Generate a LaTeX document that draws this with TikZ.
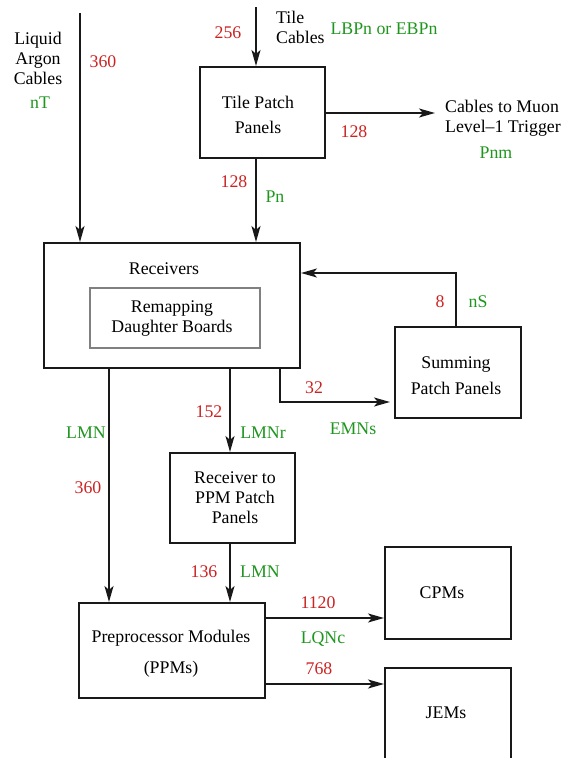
\documentclass[tikz,border=0pt]{standalone}
\usepackage{fontspec}
\setmainfont{Liberation Serif}
\usetikzlibrary{arrows.meta}
\definecolor{numred}{RGB}{204,34,34}
\definecolor{tagreen}{RGB}{30,150,30}
\tikzset{
  box/.style={draw=black!90, line width=2pt, inner sep=0pt},
  subbox/.style={draw=black!50, line width=1.4pt, inner sep=0pt},
  txt/.style={font=\fontsize{17.8}{20}\selectfont, align=center, inner sep=0pt},
  num/.style={txt, text=numred},
  tag/.style={txt, text=tagreen},
  flow/.style={line width=2pt, draw=black!90,
    -{Stealth[length=16pt,width=9pt,inset=4pt]}},
}
\begin{document}
\begin{tikzpicture}[x=1pt, y=-1pt]
  \clip (0,0) rectangle (566,758);

  % boxes
  \node[box, minimum width=125pt, minimum height=91pt] (tpp) at (262.5,112.5) {};
  \node[box, minimum width=256pt, minimum height=125pt] (rec) at (172,305.5) {};
  \node[subbox, minimum width=170pt, minimum height=60pt] (remap) at (175,318) {};
  \node[box, minimum width=126pt, minimum height=91pt] (spp) at (458,372.5) {};
  \node[box, minimum width=125pt, minimum height=90pt] (r2p) at (232.5,498) {};
  \node[box, minimum width=186pt, minimum height=95pt] (ppm) at (172,650.5) {};
  \node[box, minimum width=126pt, minimum height=92pt] (cpm) at (448,593) {};
  \node[box, minimum width=126pt, minimum height=92pt] (jem) at (448,714) {};

  % box texts
  \node[txt, font=\fontsize{17.8}{25}\selectfont] (tppT) at (258,114.5) {Tile Patch\\Panels};
  \node[txt] (recT) at (164,269) {Receivers};
  \node[txt] (remapT) at (172,319) {Remapping\\Daughter Boards};
  \node[txt, font=\fontsize{17.8}{26}\selectfont] (sppT) at (456,376) {Summing\\Patch Panels};
  \node[txt] (r2pT) at (235,498) {Receiver to\\PPM Patch\\Panels};
  \node[txt, font=\fontsize{17.8}{31}\selectfont] (ppmT) at (171,653.5) {Preprocessor Modules\\(PPMs)};
  \node[txt] (cpmT) at (442,593) {CPMs};
  \node[txt] (jemT) at (446,713) {JEMs};

  % free texts
  \node[txt] (larT) at (38,58) {Liquid\\Argon\\Cables};
  \node[txt, align=left, anchor=west] (tileT) at (276,27) {Tile\\Cables};
  \node[txt, align=left, anchor=west] (muonT) at (445,118) {Cables to Muon\\Level--1 Trigger};

  % connector end points
  \coordinate (larTop) at (80,13);
  \coordinate (tileTop) at (256,7);
  \coordinate (muonEnd) at (435,113);
  \coordinate (fbTurn) at (456,273);
  \coordinate (emTurn) at (280,402);
  \coordinate (lmnrX) at (230,0);
  \coordinate (lmnX) at (109,0);
  \coordinate (cpY) at (0,618);
  \coordinate (jeY) at (0,684);

  % connectors
  \draw[flow] (larTop) -- (larTop |- rec.north);
  \draw[flow] (tileTop) -- (tileTop |- tpp.north);
  \draw[flow] (tpp.east |- muonEnd) -- (muonEnd);
  \draw[flow] (tileTop |- tpp.south) -- (tileTop |- rec.north);
  \draw[flow] (fbTurn |- spp.north) -- (fbTurn) -- (fbTurn -| rec.east);
  \draw[flow, shorten >=4pt] (emTurn |- rec.south) -- (emTurn) -- (emTurn -| spp.west);
  \draw[flow] (lmnrX |- rec.south) -- (lmnrX |- r2p.north);
  \draw[flow] (lmnX |- rec.south) -- (lmnX |- ppm.north);
  \draw[flow] (lmnrX |- r2p.south) -- (lmnrX |- ppm.north);
  \draw[flow] (ppm.east |- cpY) -- (cpm.west |- cpY);
  \draw[flow] (ppm.east |- jeY) -- (jem.west |- jeY);

  % cable counts
  \node[num] (nLar) at (103,62) {360};
  \node[num] (nTile) at (228,33) {256};
  \node[num] (nMuon) at (354,132) {128};
  \node[num] (nPn) at (234,182) {128};
  \node[num] (nSum) at (440,302) {8};
  \node[num] (nEm) at (314,388) {32};
  \node[num] (nLmnr) at (209,412) {152};
  \node[num] (nLmn) at (88,488) {360};
  \node[num] (nPpm) at (204,572) {136};
  \node[num] (nCpm) at (318,603) {1120};
  \node[num] (nJem) at (319,669) {768};

  % cable types
  \node[tag] (tNT) at (40,103) {nT};
  \node[tag] (tLBP) at (384,29) {LBPn or EBPn};
  \node[tag] (tPnm) at (496,153) {Pnm};
  \node[tag] (tPn) at (275,197) {Pn};
  \node[tag] (tNS) at (478,302) {nS};
  \node[tag] (tEMN) at (353,429) {EMNs};
  \node[tag] (tLMNr) at (263,433) {LMNr};
  \node[tag] (tLMN) at (86,433) {LMN};
  \node[tag] (tLMN2) at (260,572) {LMN};
  \node[tag] (tLQN) at (323,639) {LQNc};
\end{tikzpicture}
\end{document}
